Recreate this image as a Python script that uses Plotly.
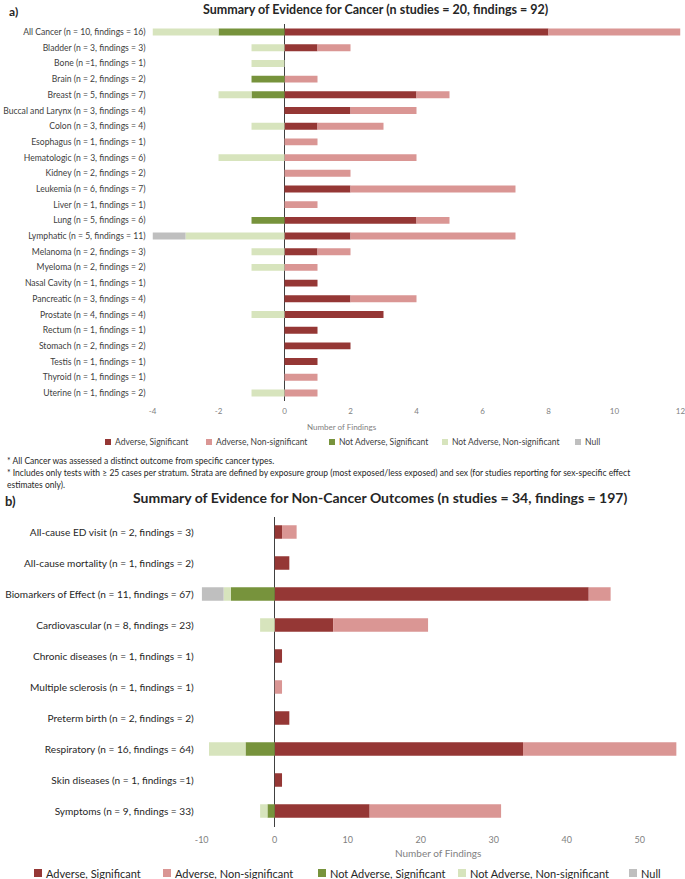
import plotly.graph_objects as go

# ---------------- data: panel a) cancer ----------------
cancer_cats = [
    "All Cancer (n = 10, findings = 16)", "Bladder (n = 3, findings = 3)", "Bone (n =1, findings = 1)",
    "Brain (n = 2, findings = 2)", "Breast (n = 5, findings = 7)", "Buccal and Larynx (n = 3, findings = 4)",
    "Colon (n = 3, findings = 4)", "Esophagus (n = 1, findings = 1)", "Hematologic (n = 3, findings = 6)",
    "Kidney (n = 2, findings = 2)", "Leukemia (n = 6, findings = 7)", "Liver (n = 1, findings = 1)",
    "Lung (n = 5, findings = 6)", "Lymphatic (n = 5, findings = 11)", "Melanoma (n = 2, findings = 3)",
    "Myeloma (n = 2, findings = 2)", "Nasal Cavity (n = 1, findings = 1)", "Pancreatic (n = 3, findings = 4)",
    "Prostate (n = 4, findings = 4)", "Rectum (n = 1, findings = 1)", "Stomach (n = 2, findings = 2)",
    "Testis (n = 1, findings = 1)", "Thyroid (n = 1, findings = 1)", "Uterine (n = 1, findings = 2)",
]
cancer_adv_sig    = [8, 1, 0, 0, 4, 2, 1, 0, 0, 0, 2, 0, 4, 2, 1, 0, 1, 2, 3, 1, 2, 1, 0, 0]
cancer_adv_nonsig = [4, 1, 0, 1, 1, 2, 2, 1, 4, 2, 5, 1, 1, 5, 1, 1, 0, 2, 0, 0, 0, 0, 1, 1]
cancer_not_sig    = [-2, 0, 0, -1, -1, 0, 0, 0, 0, 0, 0, 0, -1, 0, 0, 0, 0, 0, 0, 0, 0, 0, 0, 0]
cancer_not_nonsig = [-2, -1, -1, 0, -1, 0, -1, 0, -2, 0, 0, 0, 0, -3, -1, -1, 0, 0, -1, 0, 0, 0, 0, -1]
cancer_null       = [0, 0, 0, 0, 0, 0, 0, 0, 0, 0, 0, 0, 0, -1, 0, 0, 0, 0, 0, 0, 0, 0, 0, 0]
cancer_ticks = [-4, -2, 0, 2, 4, 6, 8, 10, 12]

# ---------------- data: panel b) non-cancer ----------------
nc_cats = [
    "All-cause ED visit (n = 2, findings = 3)", "All-cause mortality (n = 1, findings = 2)",
    "Biomarkers of Effect (n = 11, findings = 67)", "Cardiovascular (n = 8, findings = 23)",
    "Chronic diseases (n = 1, findings = 1)", "Multiple sclerosis (n = 1, findings = 1)",
    "Preterm birth (n = 2, findings = 2)", "Respiratory (n = 16, findings = 64)",
    "Skin diseases (n = 1, findings =1)", "Symptoms (n = 9, findings = 33)",
]
nc_adv_sig    = [1, 2, 43, 8, 1, 0, 2, 34, 1, 13]
nc_adv_nonsig = [2, 0, 3, 13, 0, 1, 0, 21, 0, 18]
nc_not_sig    = [0, 0, -6, 0, 0, 0, 0, -4, 0, -1]
nc_not_nonsig = [0, 0, -1, -2, 0, 0, 0, -5, 0, -1]
nc_null       = [0, 0, -3, 0, 0, 0, 0, 0, 0, 0]
nc_ticks = [-10, 0, 10, 20, 30, 40, 50]

series_names = ["Adverse, Significant", "Adverse, Non-significant", "Not Adverse, Significant",
                "Not Adverse, Non-significant", "Null"]
series_colors = ["#953735", "#DA9694", "#77933C", "#D7E4BD", "#BFBFBF"]

FONT = "Lato, 'Open Sans', sans-serif"
W, H = 685, 879
def px(x): return x / W
def py(y): return 1 - y / H

def nz(vals):
    return [v if v != 0 else None for v in vals]

fig = go.Figure()
fig.update_layout(template="none")
cancer_series = [cancer_adv_sig, cancer_adv_nonsig, cancer_not_sig, cancer_not_nonsig, cancer_null]
nc_series = [nc_adv_sig, nc_adv_nonsig, nc_not_sig, nc_not_nonsig, nc_null]

for name, col, vals in zip(series_names, series_colors, cancer_series):
    fig.add_trace(go.Bar(y=cancer_cats, x=nz(vals), orientation="h", name=name,
                         marker=dict(color=col, line=dict(width=0)),
                         xaxis="x", yaxis="y", showlegend=False))
for name, col, vals in zip(series_names, series_colors, nc_series):
    fig.add_trace(go.Bar(y=nc_cats, x=nz(vals), orientation="h", name=name,
                         marker=dict(color=col, line=dict(width=0)),
                         xaxis="x2", yaxis="y2", showlegend=False))

axis_common = dict(showgrid=False, ticks="", showline=False, automargin=False)
fig.update_layout(
    width=W, height=H, margin=dict(l=0, r=0, t=0, b=0, autoexpand=False),
    paper_bgcolor="white", plot_bgcolor="white", showlegend=False,
    font=dict(family=FONT, color="#404040"),
    barmode="relative", bargap=0.56,
    xaxis=dict(domain=[px(152.5), px(680.5)], range=[-4.001, 12.001], tickvals=cancer_ticks,
               ticktext=[str(v) for v in cancer_ticks], ticklabeloverflow="allow",
               ticklabelstandoff=4,
               zeroline=True, zerolinecolor="#404040", zerolinewidth=1.3,
               tickfont=dict(size=8, color="#7f7f7f"), anchor="y", **axis_common),
    yaxis=dict(domain=[py(400.8), py(24.2)], categoryorder="array", categoryarray=cancer_cats,
               autorange="reversed", tickfont=dict(size=8.6, color="#404040"),
               ticklabelstandoff=6, anchor="x", **axis_common),
    xaxis2=dict(domain=[px(201.7), px(680)], range=[-10, 55.5], tickvals=nc_ticks,
                ticktext=[str(v) for v in nc_ticks], ticklabeloverflow="allow",
                ticklabelstandoff=6,
                zeroline=True, zerolinecolor="#404040", zerolinewidth=1.3,
                tickfont=dict(size=9, color="#7f7f7f"), anchor="y2", **axis_common),
    yaxis2=dict(domain=[py(826.5), py(516.5)], categoryorder="array", categoryarray=nc_cats,
                autorange="reversed", tickfont=dict(size=10.1, color="#262626"),
                ticklabelstandoff=7, anchor="x2", **axis_common),
)

ann = [
    dict(text="<b>a)</b>", x=px(13), y=py(12), size=12, color="#262626", xanchor="center"),
    dict(text="<b>Summary of Evidence for Cancer (n studies = 20, findings = 92)</b>",
         x=px(375), y=py(9), size=12.5, color="#262626", xanchor="center"),
    dict(text="Number of Findings", x=px(342), y=py(427), size=8, color="#7f7f7f", xanchor="center"),
    dict(text="* All Cancer was assessed a distinct outcome from specific cancer types.",
         x=px(5), y=py(461), size=8.5, color="#262626", xanchor="left"),
    dict(text="* Includes only tests with \u2265 25 cases per stratum. Strata are defined by exposure group "
              "(most exposed/less exposed) and sex (for studies reporting for sex-specific effect",
         x=px(5), y=py(473), size=8.5, color="#262626", xanchor="left"),
    dict(text="estimates only).", x=px(5), y=py(485), size=8.5, color="#262626", xanchor="left"),
    dict(text="<b>b)</b>", x=px(10), y=py(501), size=13, color="#262626", xanchor="center"),
    dict(text="<b>Summary of Evidence for Non-Cancer Outcomes (n studies = 34, findings = 197)</b>",
         x=px(380), y=py(497), size=14, color="#262626", xanchor="center"),
    dict(text="Number of Findings", x=px(438), y=py(853), size=10, color="#7f7f7f", xanchor="center"),
]

# manual legends (small square swatch + label), positioned like the original
legend_top_x = [108, 209, 332, 445, 578]
legend_bot_x = [38, 167, 322, 462, 633]
shapes = []
for lx, name, col in zip(legend_top_x, series_names, series_colors):
    s = 3
    shapes.append(dict(type="rect", xref="paper", yref="paper", x0=px(lx - s), x1=px(lx + s),
                       y0=py(442 + s), y1=py(442 - s), fillcolor=col, line=dict(width=0)))
    ann.append(dict(text=name, x=px(lx + s + 2), y=py(442), size=8.5, color="#404040", xanchor="left"))
for lx, name, col in zip(legend_bot_x, series_names, series_colors):
    s = 4
    shapes.append(dict(type="rect", xref="paper", yref="paper", x0=px(lx - s), x1=px(lx + s),
                       y0=py(873 + s), y1=py(873 - s), fillcolor=col, line=dict(width=0)))
    ann.append(dict(text=name, x=px(lx + s + 2), y=py(873), size=11, color="#262626", xanchor="left"))

fig.update_layout(shapes=shapes, annotations=[
    dict(text=a["text"], x=a["x"], y=a["y"], xref="paper", yref="paper", showarrow=False,
         xanchor=a["xanchor"], yanchor="middle", font=dict(size=a["size"], color=a["color"], family=FONT))
    for a in ann
])

fig.write_html("out.html")
